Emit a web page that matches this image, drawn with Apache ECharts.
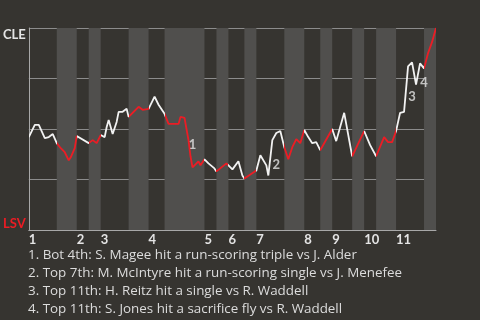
<!DOCTYPE html>
<html><head><meta charset="utf-8">
<script src="https://cdn.jsdelivr.net/npm/echarts@6/dist/echarts.min.js"></script>
<style>html,body{margin:0;padding:0;background:#363430;}#c{width:480px;height:320px;}</style>
</head><body><div id="c"></div>
<script>
// Team labels: bottom (0) = LSV, top (1) = CLE
const teams = ['LSV', 'CLE'];
// Half-inning boundaries in event units (top 1st, bot 1st, top 2nd, ...)
const halfInningBounds = [0,14,24,30,36,50,60,68,88,94,100,108,114,128,138,146,152,162,168,174,184,198,204];
// Win probability for CLE, by game event
const eventIdx = [0,3,5,8,10,12,14, 16,18,20,21,23,24, 30, 32,34,36,
  38,39,40,42,43,44,45,47,49,50, 55,57,60, 63,65,68,
  70,75,76,78,79,80,81,82,85,86,88, 90,93,94, 99,100,
  102,105,107,108, 114, 116,119,120,122,124,126,128,
  130,132,134,136,138, 140,142,144,146, 152, 154,158,162, 168,
  171,174, 178,180,182,184, 186,188,190,192,194,195,196,198, 200,202,204];
const cleWinProb = [0.46,0.52,0.52,0.455,0.46,0.475,0.43, 0.405,0.385,0.345,0.36,0.405,0.465, 0.43, 0.445,0.43,0.47,
  0.46,0.51,0.545,0.475,0.47,0.535,0.585,0.585,0.60,0.56, 0.61,0.595,0.60, 0.66,0.62,0.575,
  0.525,0.525,0.56,0.555,0.50,0.445,0.365,0.31,0.34,0.32,0.35, 0.33,0.305,0.29, 0.33,0.335,
  0.30,0.34,0.27,0.255, 0.295, 0.37,0.32,0.27,0.445,0.48,0.49,0.41,
  0.35,0.41,0.45,0.43,0.495, 0.46,0.43,0.435,0.395, 0.50, 0.44,0.58,0.365, 0.49,
  0.42,0.365, 0.46,0.435,0.435,0.49, 0.58,0.585,0.81,0.83,0.72,0.72,0.825,0.80, 0.875,0.93,1.0];
// Key-event markers
const noteIdx = [82, 124, 192, 198];
const noteProb = [0.42, 0.325, 0.66, 0.73];
const noteLabels = ['1', '2', '3', '4'];
const notes = [
  '1. Bot 4th: S. Magee hit a run-scoring triple vs J. Alder',
  '2. Top 7th: M. McIntyre hit a run-scoring single vs J. Menefee',
  '3. Top 11th: H. Reitz hit a single vs R. Waddell',
  '4. Top 11th: S. Jones hit a sacrifice fly vs R. Waddell'
];

const BG = '#363430', BAND = '#504f4d', WHITE = '#f2f2f2', RED = '#ec1c24', TXT = '#e4e4e4';
const FONT = 'Lato';
const NOTE_FONT = 'Open Sans';

const lineData = eventIdx.map((x, i) => [x, cleWinProb[i]]);
const pieces = [];
const bands = [];
const inningStarts = [];
for (let i = 0; i < halfInningBounds.length - 1; i++) {
  const a = halfInningBounds[i], b = halfInningBounds[i + 1];
  const last = i === halfInningBounds.length - 2;
  pieces.push(last ? {gte: a, lte: b, color: i % 2 ? RED : WHITE} : {gte: a, lt: b, color: i % 2 ? RED : WHITE});
  if (i % 2) bands.push([{xAxis: a}, {xAxis: b}]);
  else inningStarts.push(a);
}

const chart = echarts.init(document.getElementById('c'));
chart.setOption({
  backgroundColor: BG,
  animation: false,
  textStyle: {fontFamily: FONT},
  title: {
    text: notes.join('\n'),
    left: 23, top: 241,
    textStyle: {color: '#dcdcdc', fontSize: 13.4, fontWeight: 'normal', fontFamily: NOTE_FONT, lineHeight: 18}
  },
  grid: {left: 27, right: 44, top: 28, bottom: 90},
  xAxis: {
    type: 'value', min: 0, max: 204,
    axisLine: {show: true, lineStyle: {color: '#a8a8a8', width: 1}},
    axisTick: {show: false},
    splitLine: {show: false},
    axisLabel: {
      customValues: inningStarts,
      align: 'left', margin: 3,
      color: TXT, fontSize: 13, fontWeight: 'bold', fontFamily: FONT,
      formatter: v => String(inningStarts.indexOf(v) + 1)
    }
  },
  yAxis: {
    type: 'value', min: 0, max: 1, interval: 0.25,
    axisLine: {show: true, lineStyle: {color: '#a8a8a8', width: 1}},
    axisTick: {show: false},
    splitLine: {show: true, lineStyle: {color: '#8c8c8c', width: 1}},
    axisLabel: {
      margin: 3,
      fontSize: 13, fontWeight: 'bold', fontFamily: FONT,
      verticalAlignMaxLabel: 'top', verticalAlignMinLabel: 'bottom',
      formatter: v => v === 1 ? '{cle|' + teams[1] + '}' : (v === 0 ? '{lsv|' + teams[0] + '}' : ''),
      rich: {
        cle: {color: TXT, fontSize: 13, fontWeight: 'bold', fontFamily: FONT},
        lsv: {color: RED, fontSize: 13, fontWeight: 'bold', fontFamily: FONT}
      }
    }
  },
  visualMap: {show: false, type: 'piecewise', dimension: 0, seriesIndex: 1, pieces: pieces},
  series: [
    {
      type: 'line', data: [], z: -1, silent: true,
      markArea: {silent: true, itemStyle: {color: BAND}, data: bands}
    },
    {
      type: 'line', data: lineData, symbol: 'none', z: 3,
      lineStyle: {width: 1.8}
    },
    {
      type: 'scatter', symbolSize: 0, z: 4, silent: true,
      data: noteIdx.map((x, i) => [x, noteProb[i]]),
      label: {
        show: true, position: 'inside', color: TXT, fontSize: 13, fontWeight: 'bold', fontFamily: FONT,
        formatter: p => noteLabels[p.dataIndex]
      }
    }
  ]
});
</script></body></html>
